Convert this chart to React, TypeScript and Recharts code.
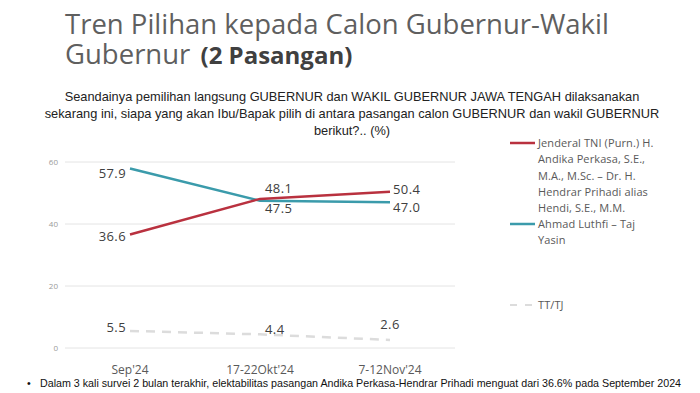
import React from "react";
import { LineChart, Line, XAxis, YAxis, CartesianGrid } from "recharts";

const categories = ["Sep'24", "17-22Okt'24", "7-12Nov'24"];
const andikaValues = [36.6, 48.1, 50.4];
const luthfiValues = [57.9, 47.5, 47.0];
const ttTjValues = [5.5, 4.4, 2.6];
const yTicks = [0, 20, 40, 60];

const RED = "#b9313f";
const TEAL = "#3b9bab";
const GREY = "#dcdcdc";

const data = categories.map((cat, i) => ({
  cat,
  andika: andikaValues[i],
  luthfi: luthfiValues[i],
  tttj: ttTjValues[i],
}));

type Place = { dx: number; dy: number; anchor: "start" | "middle" | "end" };
const labelPlacement: Record<string, Place[]> = {
  andika: [
    { dx: -4, dy: 1, anchor: "end" },
    { dx: 5, dy: -11, anchor: "start" },
    { dx: 3, dy: -3, anchor: "start" },
  ],
  luthfi: [
    { dx: -4, dy: 4, anchor: "end" },
    { dx: 5, dy: 7, anchor: "start" },
    { dx: 3, dy: 5, anchor: "start" },
  ],
  tttj: [
    { dx: -4, dy: -4, anchor: "end" },
    { dx: 5, dy: -5, anchor: "start" },
    { dx: 0, dy: -16, anchor: "middle" },
  ],
};

const makeLabel = (key: string) => (props: any) => {
  const { x, y, value, index } = props;
  const p = labelPlacement[key][index];
  if (x == null || y == null || !p) return null;
  return (
    <text
      key={`${key}-${index}`}
      x={x + p.dx}
      y={y + p.dy}
      textAnchor={p.anchor}
      dominantBaseline="central"
      fontFamily="'Open Sans', sans-serif"
      fontSize={13}
      fill="#404040"
      letterSpacing={0.4}
    >
      {Number(value).toFixed(1)}
    </text>
  );
};

const legendText: React.CSSProperties = {
  position: "absolute",
  left: 538,
  fontFamily: "'Open Sans', sans-serif",
  fontSize: 11,
  lineHeight: "16.3px",
  color: "#595959",
  letterSpacing: 0.1,
  whiteSpace: "nowrap",
};

const titleLine: React.CSSProperties = {
  position: "absolute",
  left: 65,
  fontFamily: "'Open Sans', sans-serif",
  fontSize: 27.5,
  lineHeight: "26px",
  color: "#5f5f5f",
  whiteSpace: "nowrap",
};

export default function App() {
  return (
    <div
      style={{
        position: "absolute",
        left: 0,
        top: 0,
        width: 700,
        height: 393,
        background: "#ffffff",
        overflow: "hidden",
      }}
    >
      <div style={{ ...titleLine, top: 11 }}>
        Tren Pilihan kepada Calon Gubernur-Wakil
      </div>
      <div style={{ ...titleLine, top: 41 }}>
        Gubernur{" "}
        <span style={{ fontWeight: 700, fontSize: 24, marginLeft: 3, color: "#404040" }}>
          (2 Pasangan)
        </span>
      </div>

      <div
        style={{
          position: "absolute",
          left: 40,
          width: 624,
          top: 88,
          textAlign: "center",
          fontFamily: "'Liberation Sans', Arial, sans-serif",
          fontSize: 12.8,
          lineHeight: "17px",
          color: "#222222",
          whiteSpace: "nowrap",
        }}
      >
        Seandainya pemilihan langsung GUBERNUR dan WAKIL GUBERNUR JAWA TENGAH dilaksanakan
        <br />
        sekarang ini, siapa yang akan Ibu/Bapak pilih di antara pasangan calon GUBERNUR dan wakil GUBERNUR
        <br />
        berikut?.. (%)
      </div>

      <div style={{ position: "absolute", left: 0, top: 0 }}>
        <LineChart
          width={700}
          height={393}
          data={data}
          margin={{ top: 162, right: 245, bottom: 15, left: 45 }}
        >
          <CartesianGrid vertical={false} stroke="#e4e4e4" strokeWidth={1} />
          <XAxis
            dataKey="cat"
            scale="point"
            padding={{ left: 65, right: 65 }}
            axisLine={false}
            tickLine={false}
            tickSize={0}
            tickMargin={17}
            height={30}
            interval={0}
            tick={{
              fontFamily: "'Open Sans', sans-serif",
              fontSize: 12,
              fill: "#595959",
            }}
          />
          <YAxis
            domain={[0, 60]}
            ticks={yTicks}
            width={20}
            axisLine={false}
            tickLine={false}
            tickSize={0}
            tickMargin={7}
            tick={{
              fontFamily: "'Open Sans', sans-serif",
              fontSize: 8,
              fill: "#9a9a9a",
            }}
          />
          <Line
            dataKey="tttj"
            stroke={GREY}
            strokeWidth={2.5}
            strokeDasharray="9 7"
            dot={false}
            activeDot={false}
            isAnimationActive={false}
            label={makeLabel("tttj")}
          />
          <Line
            dataKey="luthfi"
            stroke={TEAL}
            strokeWidth={2.5}
            dot={false}
            activeDot={false}
            isAnimationActive={false}
            label={makeLabel("luthfi")}
          />
          <Line
            dataKey="andika"
            stroke={RED}
            strokeWidth={2.5}
            dot={false}
            activeDot={false}
            isAnimationActive={false}
            label={makeLabel("andika")}
          />
        </LineChart>
      </div>

      <svg
        width={700}
        height={393}
        style={{ position: "absolute", left: 0, top: 0, pointerEvents: "none" }}
      >
        <line x1={510} x2={535} y1={143} y2={143} stroke={RED} strokeWidth={2.5} />
        <line x1={510} x2={535} y1={224} y2={224} stroke={TEAL} strokeWidth={2.5} />
        <line
          x1={510}
          x2={533}
          y1={305}
          y2={305}
          stroke={GREY}
          strokeWidth={2}
          strokeDasharray="7 8"
        />
      </svg>

      <div style={{ ...legendText, top: 135 }}>
        Jenderal TNI (Purn.) H.
        <br />
        Andika Perkasa, S.E.,
        <br />
        M.A., M.Sc. – Dr. H.
        <br />
        Hendrar Prihadi alias
        <br />
        Hendi, S.E., M.M.
      </div>
      <div style={{ ...legendText, top: 216 }}>
        Ahmad Luthfi – Taj
        <br />
        Yasin
      </div>
      <div style={{ ...legendText, top: 297 }}>TT/TJ</div>

      <div
        style={{
          position: "absolute",
          left: 27,
          top: 376,
          fontFamily: "'Liberation Sans', Arial, sans-serif",
          fontSize: 10.7,
          lineHeight: "14px",
          color: "#111111",
          whiteSpace: "nowrap",
        }}
      >
        <span style={{ display: "inline-block", width: 13 }}>•</span>
        Dalam 3 kali survei 2 bulan terakhir, elektabilitas pasangan Andika Perkasa-Hendrar Prihadi menguat dari 36.6% pada September 2024
      </div>
    </div>
  );
}
